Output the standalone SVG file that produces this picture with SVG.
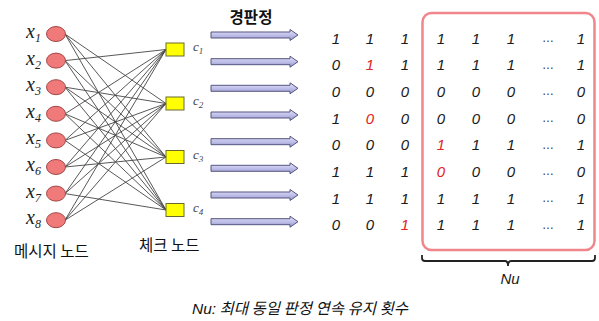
<svg xmlns="http://www.w3.org/2000/svg" width="599" height="321" viewBox="0 0 599 321">
<style>
.vn{fill:#f07a7a;stroke:#a04848;stroke-width:1}
.cn{fill:#ffff00;stroke:#6a6a30;stroke-width:1}
.ed{stroke:#454545;stroke-width:0.9;fill:none}
.xl{font-family:"Liberation Serif",serif;font-style:italic;font-size:20px;fill:#222}
.xs{font-size:12px}
.cl{font-family:"Liberation Serif",serif;font-style:italic;font-size:13px;fill:#444}
.cs{font-size:9px}
.num{font-family:"Liberation Sans",Arial,sans-serif;font-style:italic;font-size:15px;fill:#1a1a1a;text-anchor:middle}
.red{fill:#e02424}
.dots{font-family:"Liberation Sans",Arial,sans-serif;font-size:12px;fill:#333;text-anchor:middle}
.kr{font-family:"Noto Sans CJK KR","Noto Sans",sans-serif;font-size:15.5px;fill:#111}
.arr{fill:url(#ag);stroke:#55557f;stroke-width:1}
</style>
<defs>
<linearGradient id="ag" x1="0" y1="0" x2="0" y2="1">
<stop offset="0" stop-color="#e6e6ff"/>
<stop offset="1" stop-color="#9898d2"/>
</linearGradient>
<path id="arrow" class="arr" d="M0,-3 H79 V-5.5 L87,0 L79,5.5 V3 H0 Z"/>
</defs>

<g id="connectors">
<line class="ed" x1="65" y1="60.6" x2="166" y2="49.5"/>
<line class="ed" x1="65" y1="113.8" x2="166" y2="49.5"/>
<line class="ed" x1="65" y1="140.4" x2="166" y2="49.5"/>
<line class="ed" x1="65" y1="167" x2="166" y2="49.5"/>
<line class="ed" x1="65" y1="193.6" x2="166" y2="49.5"/>
<line class="ed" x1="65" y1="220.2" x2="166" y2="49.5"/>
<line class="ed" x1="65" y1="34" x2="166" y2="103.5"/>
<line class="ed" x1="65" y1="87.2" x2="166" y2="103.5"/>
<line class="ed" x1="65" y1="140.4" x2="166" y2="103.5"/>
<line class="ed" x1="65" y1="167" x2="166" y2="103.5"/>
<line class="ed" x1="65" y1="193.6" x2="166" y2="103.5"/>
<line class="ed" x1="65" y1="220.2" x2="166" y2="103.5"/>
<line class="ed" x1="65" y1="34" x2="166" y2="157"/>
<line class="ed" x1="65" y1="60.6" x2="166" y2="157"/>
<line class="ed" x1="65" y1="87.2" x2="166" y2="157"/>
<line class="ed" x1="65" y1="113.8" x2="166" y2="157"/>
<line class="ed" x1="65" y1="167" x2="166" y2="157"/>
<line class="ed" x1="65" y1="220.2" x2="166" y2="157"/>
<line class="ed" x1="65" y1="34" x2="166" y2="210"/>
<line class="ed" x1="65" y1="60.6" x2="166" y2="210"/>
<line class="ed" x1="65" y1="87.2" x2="166" y2="210"/>
<line class="ed" x1="65" y1="113.8" x2="166" y2="210"/>
<line class="ed" x1="65" y1="140.4" x2="166" y2="210"/>
<line class="ed" x1="65" y1="193.6" x2="166" y2="210"/>
</g>

<g id="x1"><ellipse class="vn" cx="56" cy="34" rx="9.5" ry="7.5"/><text class="xl" x="26" y="38">x<tspan class="xs" dy="4">1</tspan></text></g>
<g id="x2"><ellipse class="vn" cx="56" cy="60.6" rx="9.5" ry="7.5"/><text class="xl" x="26" y="64.6">x<tspan class="xs" dy="4">2</tspan></text></g>
<g id="x3"><ellipse class="vn" cx="56" cy="87.2" rx="9.5" ry="7.5"/><text class="xl" x="26" y="91.2">x<tspan class="xs" dy="4">3</tspan></text></g>
<g id="x4"><ellipse class="vn" cx="56" cy="113.8" rx="9.5" ry="7.5"/><text class="xl" x="26" y="117.8">x<tspan class="xs" dy="4">4</tspan></text></g>
<g id="x5"><ellipse class="vn" cx="56" cy="140.4" rx="9.5" ry="7.5"/><text class="xl" x="26" y="144.4">x<tspan class="xs" dy="4">5</tspan></text></g>
<g id="x6"><ellipse class="vn" cx="56" cy="167" rx="9.5" ry="7.5"/><text class="xl" x="26" y="171">x<tspan class="xs" dy="4">6</tspan></text></g>
<g id="x7"><ellipse class="vn" cx="56" cy="193.6" rx="9.5" ry="7.5"/><text class="xl" x="26" y="197.6">x<tspan class="xs" dy="4">7</tspan></text></g>
<g id="x8"><ellipse class="vn" cx="56" cy="220.2" rx="9.5" ry="7.5"/><text class="xl" x="26" y="224.2">x<tspan class="xs" dy="4">8</tspan></text></g>

<g id="c1"><rect class="cn" x="166" y="43" width="18" height="13"/><text class="cl" x="193" y="51">c<tspan class="cs" dy="3">1</tspan></text></g>
<g id="c2"><rect class="cn" x="166" y="97" width="18" height="13"/><text class="cl" x="193" y="105">c<tspan class="cs" dy="3">2</tspan></text></g>
<g id="c3"><rect class="cn" x="166" y="150.5" width="18" height="13"/><text class="cl" x="193" y="158.5">c<tspan class="cs" dy="3">3</tspan></text></g>
<g id="c4"><rect class="cn" x="166" y="203.5" width="18" height="13"/><text class="cl" x="193" y="211.5">c<tspan class="cs" dy="3">4</tspan></text></g>

<text class="kr" x="14" y="257">메시지 노드</text>
<text class="kr" x="139" y="251">체크 노드</text>

<g id="hard-decision">
<text class="kr" x="251" y="23" text-anchor="middle" font-weight="bold">경판정</text>
<use href="#arrow" x="211" y="35"/>
<use href="#arrow" x="211" y="61.7"/>
<use href="#arrow" x="211" y="88.3"/>
<use href="#arrow" x="211" y="115"/>
<use href="#arrow" x="211" y="141.7"/>
<use href="#arrow" x="211" y="168.3"/>
<use href="#arrow" x="211" y="195"/>
<use href="#arrow" x="211" y="221.7"/>
</g>

<g id="window">
<rect x="422.5" y="13" width="172" height="237" rx="9" fill="#fff" stroke="#f0868c" stroke-width="2.5"/>
<path d="M422,255 V258 Q422,261 425,261 H505 Q508,261 508,266 Q508,261 511,261 H592 Q595,261 595,258 V255" fill="none" stroke="#222" stroke-width="1.8"/>
<text class="num" x="510" y="284">Nu</text>
</g>

<g id="matrix">
<text class="num" y="43.5"><tspan x="336">1</tspan><tspan x="370">1</tspan><tspan x="405">1</tspan><tspan x="441">1</tspan><tspan x="476">1</tspan><tspan x="511">1</tspan><tspan x="581">1</tspan></text>
<text class="num" y="70.2"><tspan x="336">0</tspan><tspan x="370" class="red">1</tspan><tspan x="405">1</tspan><tspan x="441">1</tspan><tspan x="476">1</tspan><tspan x="511">1</tspan><tspan x="581">1</tspan></text>
<text class="num" y="96.8"><tspan x="336">0</tspan><tspan x="370">0</tspan><tspan x="405">0</tspan><tspan x="441">0</tspan><tspan x="476">0</tspan><tspan x="511">0</tspan><tspan x="581">0</tspan></text>
<text class="num" y="123.5"><tspan x="336">1</tspan><tspan x="370" class="red">0</tspan><tspan x="405">0</tspan><tspan x="441">0</tspan><tspan x="476">0</tspan><tspan x="511">0</tspan><tspan x="581">0</tspan></text>
<text class="num" y="150.2"><tspan x="336">0</tspan><tspan x="370">0</tspan><tspan x="405">0</tspan><tspan x="441" class="red">1</tspan><tspan x="476">1</tspan><tspan x="511">1</tspan><tspan x="581">1</tspan></text>
<text class="num" y="176.8"><tspan x="336">1</tspan><tspan x="370">1</tspan><tspan x="405">1</tspan><tspan x="441" class="red">0</tspan><tspan x="476">0</tspan><tspan x="511">0</tspan><tspan x="581">0</tspan></text>
<text class="num" y="203.5"><tspan x="336">1</tspan><tspan x="370">1</tspan><tspan x="405">1</tspan><tspan x="441">1</tspan><tspan x="476">1</tspan><tspan x="511">1</tspan><tspan x="581">1</tspan></text>
<text class="num" y="230.2"><tspan x="336">0</tspan><tspan x="370">0</tspan><tspan x="405" class="red">1</tspan><tspan x="441">1</tspan><tspan x="476">1</tspan><tspan x="511">1</tspan><tspan x="581">1</tspan></text>
<text class="dots" x="548" y="42">…</text>
<text class="dots" x="548" y="68.7">…</text>
<text class="dots" x="548" y="95.3">…</text>
<text class="dots" x="548" y="122">…</text>
<text class="dots" x="548" y="148.7">…</text>
<text class="dots" x="548" y="175.3">…</text>
<text class="dots" x="548" y="202">…</text>
<text class="dots" x="548" y="228.7">…</text>
</g>

<text class="kr" x="300" y="314" text-anchor="middle" font-style="italic" font-size="14.5px"><tspan font-family="Liberation Sans, sans-serif">Nu:</tspan> 최대 동일 판정 연속 유지 횟수</text>
</svg>
